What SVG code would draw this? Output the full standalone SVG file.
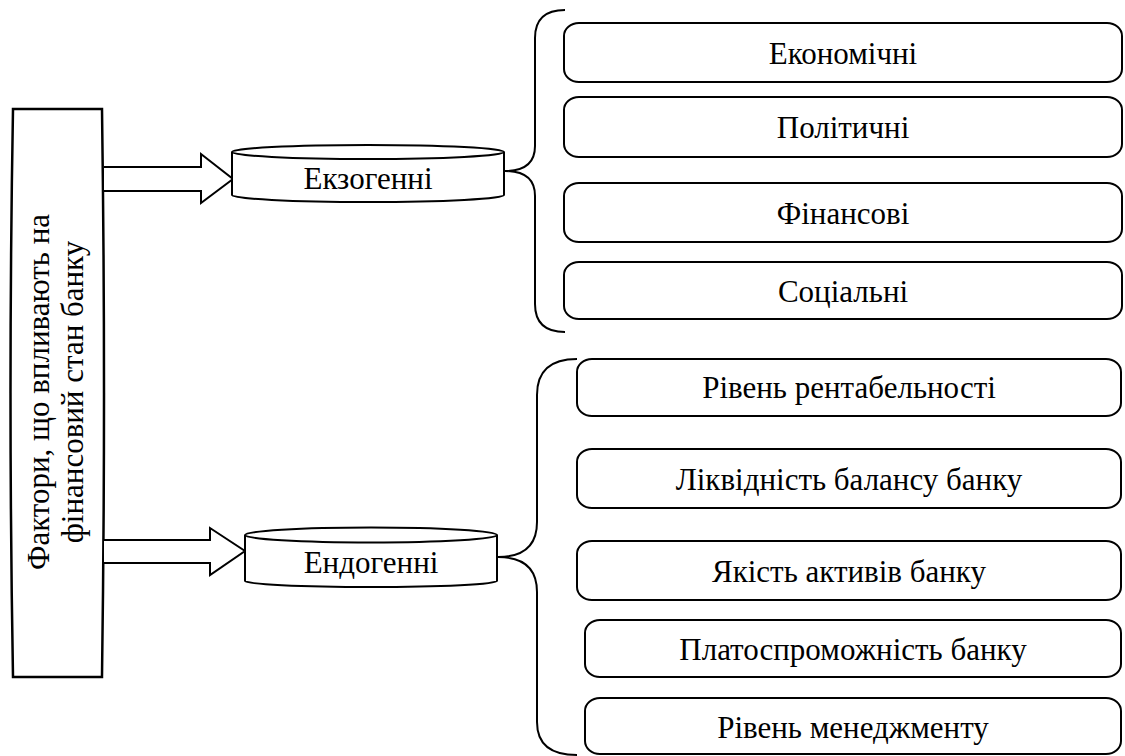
<svg xmlns="http://www.w3.org/2000/svg" width="1125" height="756" viewBox="0 0 1125 756">
<style>
.s{fill:#fff;stroke:#000;stroke-width:2}
.l{fill:none;stroke:#000;stroke-width:2}
.t{font-family:'Liberation Serif','Times New Roman',Tinos,'DejaVu Serif',serif;font-size:31px;fill:#000;text-anchor:middle}
</style>
<rect width="1125" height="756" fill="#fff"/>
<g id="main">
<path class="s" style="stroke-width:2.5" d="M13,109 L102,109 Q106,393 102,677 L13,677 Q8,393 13,109 Z"/>
<text class="t" transform="translate(49,392) rotate(-90)">Фактори, що впливають на</text>
<text class="t" transform="translate(83,392) rotate(-90)">фінансовий стан банку</text>
</g>
<g id="connectors">
<path class="s" d="M104,167 L201,167 L201,154 L233,179 L201,203 L201,191 L104,191"/>
<path class="s" d="M104,540 L210,540 L210,528 L245,551 L210,575 L210,563 L104,563"/>
<path class="l" d="M565,10 Q535,10 535,38 L535,146 Q535,171 505,171 Q535,171 535,196 L535,304 Q535,332 565,332"/>
<path class="l" d="M577,359 Q537,359 537,395 L537,522 Q537,557 498,557 Q537,557 537,592 L537,722 Q537,755 577,755"/>
</g>
<g id="exo">
<path class="s" d="M232,152 A136,7 0 0 1 504,152 L504,195 A136,7 0 0 1 232,195 Z"/>
<path class="l" d="M232,152 A136,7 0 0 0 504,152"/>
<text class="t" x="368" y="189">Екзогенні</text>
</g>
<g id="endo">
<path class="s" d="M245,535 A126,7.5 0 0 1 497,535 L497,581 A126,6 0 0 1 245,581 Z"/>
<path class="l" d="M245,535 A126,7.5 0 0 0 497,535"/>
<text class="t" x="371" y="573">Ендогенні</text>
</g>
<g id="b1"><rect class="s" x="564" y="23" width="558" height="59" rx="15" ry="13"/><text class="t" x="843" y="64">Економічні</text></g>
<g id="b2"><rect class="s" x="564" y="97" width="558" height="60" rx="15" ry="13"/><text class="t" x="843" y="138">Політичні</text></g>
<g id="b3"><rect class="s" x="564" y="183" width="558" height="59" rx="15" ry="13"/><text class="t" x="843" y="224">Фінансові</text></g>
<g id="b4"><rect class="s" x="564" y="262" width="558" height="57" rx="15" ry="13"/><text class="t" x="843" y="302">Соціальні</text></g>
<g id="c1"><rect class="s" x="577" y="359" width="544" height="57" rx="15" ry="13"/><text class="t" x="849" y="398">Рівень рентабельності</text></g>
<g id="c2"><rect class="s" x="577" y="449" width="544" height="59" rx="15" ry="13"/><text class="t" x="849" y="490">Ліквідність балансу банку</text></g>
<g id="c3"><rect class="s" x="577" y="541" width="544" height="59" rx="15" ry="13"/><text class="t" x="849" y="582">Якість активів банку</text></g>
<g id="c4"><rect class="s" x="585" y="620" width="536" height="57" rx="15" ry="13"/><text class="t" x="853" y="660">Платоспроможність банку</text></g>
<g id="c5"><rect class="s" x="585" y="698" width="536" height="56" rx="15" ry="13"/><text class="t" x="853" y="738">Рівень менеджменту</text></g>
</svg>
